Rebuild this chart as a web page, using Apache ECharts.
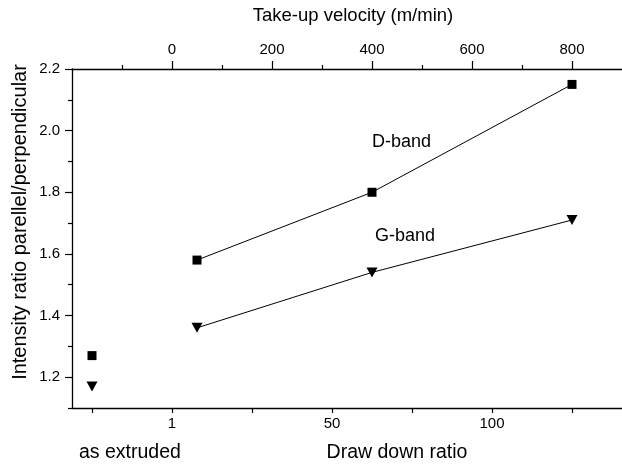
<!DOCTYPE html>
<html>
<head>
<meta charset="utf-8">
<script src="https://cdn.jsdelivr.net/npm/echarts@6/dist/echarts.min.js"></script>
<style>
html,body{margin:0;padding:0;background:#fff;}
#chart{width:622px;height:466px;}
</style>
</head>
<body>
<div id="chart"></div>
<script>
// Data
const velocity = [50, 400, 800];           // take-up velocity (m/min)
const dBand = [1.58, 1.80, 2.15];
const gBand = [1.36, 1.54, 1.71];
const asExtrudedPos = -25;                  // position on draw-down axis
const asExtrudedD = 1.27;
const asExtrudedG = 1.17;
const topTicks = [0, 200, 400, 600, 800];
const topMinorTicks = [-100, 100, 300, 500, 700];
const bottomTicks = [-25, 0, 25, 50, 75, 100, 125];
const bottomLabelValues = [0, 50, 100];
const bottomLabelText = {0: '1', 50: '50', 100: '100'};
const yTicks = [1.2, 1.4, 1.6, 1.8, 2.0, 2.2];
const yMinorTicks = [1.1, 1.3, 1.5, 1.7, 1.9, 2.1];

const FONT = 'Liberation Sans, Arial, sans-serif';
const chart = echarts.init(document.getElementById('chart'), null, {renderer: 'canvas'});

const axisLineStyle = {color: '#000', width: 1.3};
const option = {
  animation: false,
  backgroundColor: '#fff',
  grid: {left: 72, top: 69, width: 553, height: 339, containLabel: false},
  xAxis: [
    {
      type: 'value', position: 'bottom', min: -31.25, max: 140.625,
      axisLine: {show: true, onZero: false, lineStyle: axisLineStyle},
      axisTick: {show: true, length: 5, customValues: bottomTicks, lineStyle: {color: '#000', width: 1.2}},
      axisLabel: {show: true, customValues: bottomLabelValues, margin: 8, color: '#000', fontSize: 15, fontFamily: FONT,
        formatter: v => bottomLabelText[v] || ''},
      splitLine: {show: false}
    },
    {
      type: 'value', position: 'top', min: -200, max: 900,
      axisLine: {show: true, onZero: false, lineStyle: axisLineStyle},
      axisTick: {show: true, length: 8, customValues: topTicks, lineStyle: {color: '#000', width: 1.2}},
      axisLabel: {show: true, customValues: topTicks, margin: 12, color: '#000', fontSize: 15, fontFamily: FONT},
      splitLine: {show: false}
    },
    {
      type: 'value', position: 'top', min: -200, max: 900,
      axisLine: {show: false, onZero: false},
      axisTick: {show: true, length: 4, customValues: topMinorTicks, lineStyle: {color: '#000', width: 1.2}},
      axisLabel: {show: false},
      splitLine: {show: false}
    }
  ],
  yAxis: [
    {
      type: 'value', position: 'left', min: 1.1, max: 2.2,
      axisLine: {show: true, onZero: false, lineStyle: axisLineStyle},
      axisTick: {show: true, length: 7, customValues: yTicks, lineStyle: {color: '#000', width: 1.2}},
      axisLabel: {show: true, customValues: yTicks, margin: 12, color: '#000', fontSize: 15, fontFamily: FONT,
        formatter: v => v.toFixed(1)},
      splitLine: {show: false}
    },
    {
      type: 'value', position: 'left', min: 1.1, max: 2.2,
      axisLine: {show: false, onZero: false},
      axisTick: {show: true, length: 4, customValues: yMinorTicks, lineStyle: {color: '#000', width: 1.2}},
      axisLabel: {show: false},
      splitLine: {show: false}
    }
  ],
  series: [
    {
      name: 'D-band', type: 'line', xAxisIndex: 1, yAxisIndex: 0,
      data: velocity.map((v, i) => [v, dBand[i]]),
      symbol: 'rect', symbolSize: 9,
      lineStyle: {color: '#000', width: 1},
      itemStyle: {color: '#000', opacity: 1}
    },
    {
      name: 'G-band', type: 'line', xAxisIndex: 1, yAxisIndex: 0,
      data: velocity.map((v, i) => [v, gBand[i]]),
      symbol: 'triangle', symbolRotate: 180, symbolSize: [11, 10],
      lineStyle: {color: '#000', width: 1},
      itemStyle: {color: '#000', opacity: 1}
    },
    {
      name: 'D-band as extruded', type: 'scatter', xAxisIndex: 0, yAxisIndex: 0,
      data: [[asExtrudedPos, asExtrudedD]],
      symbol: 'rect', symbolSize: 9,
      itemStyle: {color: '#000', opacity: 1}
    },
    {
      name: 'G-band as extruded', type: 'scatter', xAxisIndex: 0, yAxisIndex: 0,
      data: [[asExtrudedPos, asExtrudedG]],
      symbol: 'triangle', symbolRotate: 180, symbolSize: [11, 10],
      itemStyle: {color: '#000', opacity: 1}
    }
  ],
  graphic: [
    {type: 'text', x: 353, y: 16, style: {text: 'Take-up velocity (m/min)', fill: '#000', font: '18.5px ' + FONT, align: 'center', verticalAlign: 'middle'}},
    {type: 'text', x: 397, y: 453, style: {text: 'Draw down ratio', fill: '#000', font: '19.5px ' + FONT, align: 'center', verticalAlign: 'middle'}},
    {type: 'text', x: 79, y: 453, style: {text: 'as extruded', fill: '#000', font: '19.5px ' + FONT, align: 'left', verticalAlign: 'middle'}},
    {type: 'text', x: 20, y: 222, rotation: Math.PI / 2, style: {text: 'Intensity ratio parellel/perpendicular', fill: '#000', font: '20px ' + FONT, align: 'center', verticalAlign: 'middle'}},
    {type: 'text', x: 372, y: 142, style: {text: 'D-band', fill: '#000', font: '18px ' + FONT, align: 'left', verticalAlign: 'middle'}},
    {type: 'text', x: 375, y: 236, style: {text: 'G-band', fill: '#000', font: '18px ' + FONT, align: 'left', verticalAlign: 'middle'}}
  ]
};
chart.setOption(option);
</script>
</body>
</html>
